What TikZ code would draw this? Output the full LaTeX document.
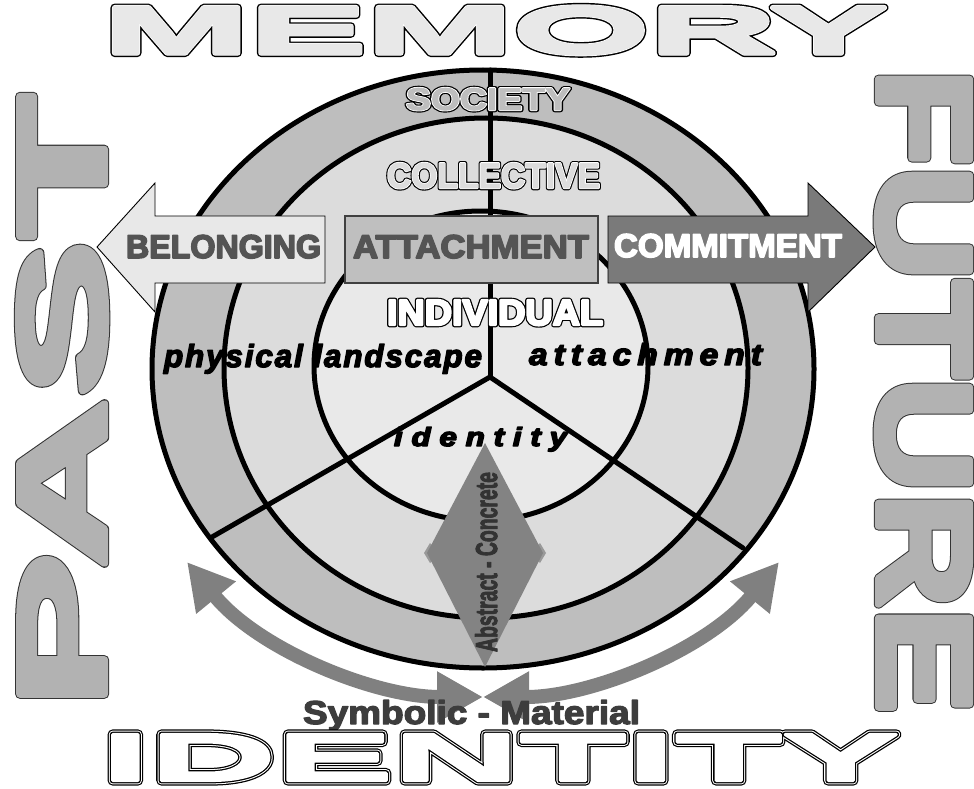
\documentclass[tikz,border=0pt]{standalone}
\usepackage{fontspec}
\usepackage{graphicx}
\usetikzlibrary{arrows.meta}
\newfontfamily\lib{Liberation Sans}
\definecolor{bandA}{HTML}{BEBEBE}
\definecolor{bandB}{HTML}{DCDCDC}
\definecolor{bandC}{HTML}{E9E9E9}
\definecolor{arrowgray}{HTML}{808080}
\definecolor{diagray}{HTML}{838383}
\definecolor{spikegray}{HTML}{999999}
\definecolor{commitfill}{HTML}{7A7A7A}
\definecolor{attachfill}{HTML}{BFBFBF}
\definecolor{belongfill}{HTML}{E8E8E8}
\newcommand\pdfTr[1]{\special{pdf:literal direct #1}}
% stroke only: gray level, width, text (no advance)
\newcommand\strk[3]{\rlap{\pdfTr{1 Tr #2 w 1 j #1 G}#3\pdfTr{0 Tr 0 G}}}
% fill and stroke in the same gray: gray level, stroke width, text
\newcommand\fillbold[3]{{\color[gray]{#1}\pdfTr{2 Tr #2 w 1 j #1 G}#3\pdfTr{0 Tr 0 G}}}
\tikzset{
  ring/.style={draw=black, line width=5pt},
  spoke/.style={draw=black, line width=5pt, line cap=round},
  lbl/.style={inner sep=0pt, outer sep=0pt},
  blockarrow/.style={draw=black, line width=0.9pt, line join=miter},
  curvarrow/.style={draw=arrowgray, line width=14pt, {Triangle[width=48pt,length=46pt]}-{Triangle[width=48pt,length=46pt]}},
}
\begin{document}
\begin{tikzpicture}[x=1pt, y=-1pt]
\useasboundingbox (0,0) rectangle (974,789);
\fill[white] (0,0) rectangle (974,789);
% rings
\draw[ring, fill=bandA] (483,369) ellipse [x radius=331, y radius=299];
\draw[ring, fill=bandB] (486,368) ellipse [x radius=262, y radius=250];
\draw[ring, fill=bandC] (481,366) ellipse [x radius=167, y radius=155];
% spokes
\coordinate (C) at (490,377);
\coordinate (Ctop) at (490,70);
\coordinate (Cleft) at (212,537);
\coordinate (Cright) at (743,548);
\draw[spoke] (C) -- (Ctop);
\draw[spoke] (C) -- (Cleft);
\draw[spoke] (C) -- (Cright);
% diamond
\fill[spikegray] (424,553) -- (430,543) -- (437,551) -- (437,556) -- (430,563) -- cycle;
\fill[spikegray] (546,553) -- (540,543) -- (533,551) -- (533,556) -- (540,563) -- cycle;
\fill[diagray] (485,443) coordinate (dT) -- (543,553) coordinate (dR) -- (485,667) coordinate (dB) -- (427,553) coordinate (dL) -- cycle;
% curved arrows
\coordinate (LA) at (187,562);
\coordinate (RA) at (779,562);
\coordinate (MEET) at (483,697);
\draw[curvarrow] (LA) .. controls (258,649) and (374,697) .. (MEET);
\draw[curvarrow] (RA) .. controls (708,649) and (592,697) .. (MEET);
% block arrows
\draw[blockarrow, fill=belongfill] (97,247) -- (155,183) -- (155,216) -- (325,216) -- (325,283) -- (155,283) -- (155,312) -- cycle;
\draw[draw=black!75, line width=1.6pt, fill=attachfill] (345,216) rectangle (598,283);
\draw[blockarrow, fill=commitfill] (608,216) -- (808,216) -- (808,183) -- (875,247) -- (808,312) -- (808,283) -- (608,283) -- cycle;
\node[lbl, anchor=base west] (belonging) at (126,258) {\resizebox{195pt}{23pt}{\lib\bfseries\fontsize{33pt}{36pt}\selectfont\fillbold{0.33}{1.6}{BELONGING}}};
\node[lbl, anchor=base west] (attachment) at (353,258) {\resizebox{236pt}{23pt}{\lib\bfseries\fontsize{33pt}{36pt}\selectfont\fillbold{0.33}{1.6}{ATTACHMENT}}};
\node[lbl, anchor=base west] (commitment) at (614,257) {\resizebox{228pt}{23pt}{\lib\bfseries\fontsize{33pt}{36pt}\selectfont\fillbold{1}{1.6}{COMMITMENT}}};
% ring labels
\node[lbl, anchor=base west] (society) at (406,110) {\resizebox{164pt}{22pt}{\lib\bfseries\fontsize{30pt}{33pt}\selectfont\strk{0}{4.4}{SOCIETY}\strk{1}{2.2}{SOCIETY}\fillbold{0.745}{0.6}{SOCIETY}}};
\node[lbl, anchor=base west] (collective) at (387,188) {\resizebox{213pt}{25pt}{\lib\bfseries\fontsize{34pt}{37pt}\selectfont\strk{0}{4.4}{COLLECTIVE}\strk{1}{2.2}{COLLECTIVE}\fillbold{0.863}{0.6}{COLLECTIVE}}};
\node[lbl, anchor=base west] (individual) at (387,325) {\resizebox{216pt}{25pt}{\lib\bfseries\fontsize{34pt}{37pt}\selectfont\strk{0}{4.4}{INDIVIDUAL}\strk{1}{2.2}{INDIVIDUAL}\fillbold{1}{0.6}{INDIVIDUAL}}};
% italic labels
\node[lbl, anchor=base west] (phys) at (164,367) {\resizebox{318pt}{23pt}{\lib\bfseries\itshape\fontsize{32pt}{36pt}\selectfont\addfontfeature{LetterSpace=6}\fillbold{0}{1.4}{physical landscape}}};
\node[lbl, anchor=base west] (attach2) at (529,365) {\resizebox{233pt}{22pt}{\lib\bfseries\itshape\fontsize{31pt}{36pt}\selectfont\addfontfeature{LetterSpace=18}\fillbold{0}{1.4}{attachment}}};
\node[lbl, anchor=base west] (ident) at (394,446) {\resizebox{173pt}{19pt}{\lib\bfseries\itshape\fontsize{27pt}{32pt}\selectfont\addfontfeature{LetterSpace=28}\fillbold{0}{1.4}{identity}}};
% diamond label
\node[lbl, rotate=90, anchor=base west] (abstract) at (497,652) {\resizebox{180pt}{22pt}{\lib\bfseries\fontsize{30pt}{33pt}\selectfont\fillbold{0.2}{1}{Abstract - Concrete}}};
% bottom label
\node[lbl, anchor=base west] (symbolic) at (303,724) {\resizebox{337pt}{24pt}{\lib\bfseries\fontsize{33pt}{36pt}\selectfont\fillbold{0.24}{1.2}{Symbolic - Material}}};
% big words
\node[lbl, anchor=base west] (memory) at (103,53) {\resizebox{784pt}{46pt}{\lib\bfseries\fontsize{64pt}{70pt}\selectfont\addfontfeature{FakeStretch=2.55}\strk{0}{8}{MEMORY}\strk{1}{5.2}{MEMORY}\fillbold{0.91}{4}{MEMORY}}};
\node[lbl, anchor=base west] (identity) at (101,780.5) {\resizebox{798pt}{46pt}{\lib\bfseries\fontsize{64pt}{70pt}\selectfont\addfontfeature{FakeStretch=2.6}\strk{0}{9.8}{IDENTITY}\strk{1}{7.4}{IDENTITY}\strk{0}{5.4}{IDENTITY}\fillbold{1}{3}{IDENTITY}}};
\node[lbl, rotate=90, anchor=base west] (past) at (104.5,710) {\resizebox{616pt}{86pt}{\lib\bfseries\fontsize{120pt}{125pt}\selectfont\addfontfeature{FakeStretch=1.9}\strk{0.2}{9}{PAST}\fillbold{0.70}{7}{PAST}}};
\node[lbl, rotate=-90, anchor=base west] (future) at (878.5,68.5) {\resizebox{645pt}{91pt}{\lib\bfseries\fontsize{127pt}{132pt}\selectfont\addfontfeature{FakeStretch=1.25}\strk{0.2}{9}{FUTURE}\fillbold{0.70}{7}{FUTURE}}};
\end{tikzpicture}
\end{document}
